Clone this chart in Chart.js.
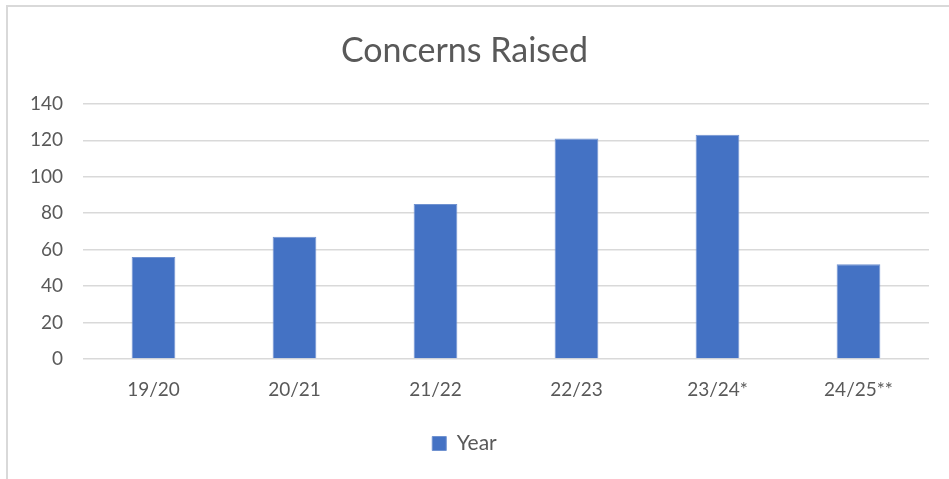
<!DOCTYPE html>
<html>
<head>
<meta charset="utf-8">
<script src="https://cdn.jsdelivr.net/npm/chart.js@4"></script>
<style>
  html, body { margin: 0; padding: 0; background: #fff; }
  #wrap { position: relative; width: 949px; height: 479px; }
  #frame { position: absolute; left: 6px; top: 5px; right: 0; bottom: 0;
           border-left: 2px solid #d9d9d9; border-top: 2px solid #d9d9d9; }
  canvas { position: absolute; left: 0; top: 0; }
</style>
</head>
<body>
<div id="wrap">
  <div id="frame"></div>
  <canvas id="concernsChart" width="949" height="479"></canvas>
</div>
<script>
// values
const years = ['19/20', '20/21', '21/22', '22/23', '23/24*', '24/25**'];
const concerns = [56, 67, 85, 121, 123, 52];
const seriesName = 'Year';
const chartTitle = 'Concerns Raised';

const fontFamily = "Lato, 'Open Sans', sans-serif";
const textColor = '#595959';
const barColor = '#4472c4';

let ctx = document.getElementById('concernsChart').getContext('2d');

window.concernsBar = new Chart(ctx, {
    type: 'bar',
    data: {
        labels: years,
        datasets: [{
            label: seriesName,
            backgroundColor: barColor,
            borderColor: '#7092d0',
            borderWidth: 1,
            data: concerns,
            categoryPercentage: 1,
            barPercentage: 0.31
        }]
    },
    options: {
        responsive: false,
        animation: false,
        layout: { padding: { left: 0, right: 20, top: 0, bottom: 15 } },
        plugins: {
            title: {
                display: true,
                text: chartTitle,
                color: textColor,
                font: { family: fontFamily, size: 34, weight: 'normal' },
                padding: { top: 31, bottom: 32 }
            },
            legend: {
                position: 'bottom',
                labels: {
                    color: textColor,
                    font: { family: fontFamily, size: 21 },
                    boxWidth: 14,
                    boxHeight: 14,
                    padding: 10
                }
            },
            tooltip: { enabled: false }
        },
        scales: {
            x: {
                grid: { display: false, drawTicks: false },
                border: { display: false },
                ticks: {
                    color: textColor,
                    font: { family: fontFamily, size: 19 },
                    padding: 19
                },
                afterFit: scale => { scale.height = 64; }
            },
            y: {
                min: 0,
                max: 140,
                grid: { color: '#d9d9d9', lineWidth: 1.5, drawTicks: false },
                border: { display: false },
                ticks: {
                    stepSize: 20,
                    color: textColor,
                    font: { family: fontFamily, size: 19 },
                    padding: 20
                },
                afterFit: scale => { scale.width = 83; }
            }
        }
    }
});
</script>
</body>
</html>
